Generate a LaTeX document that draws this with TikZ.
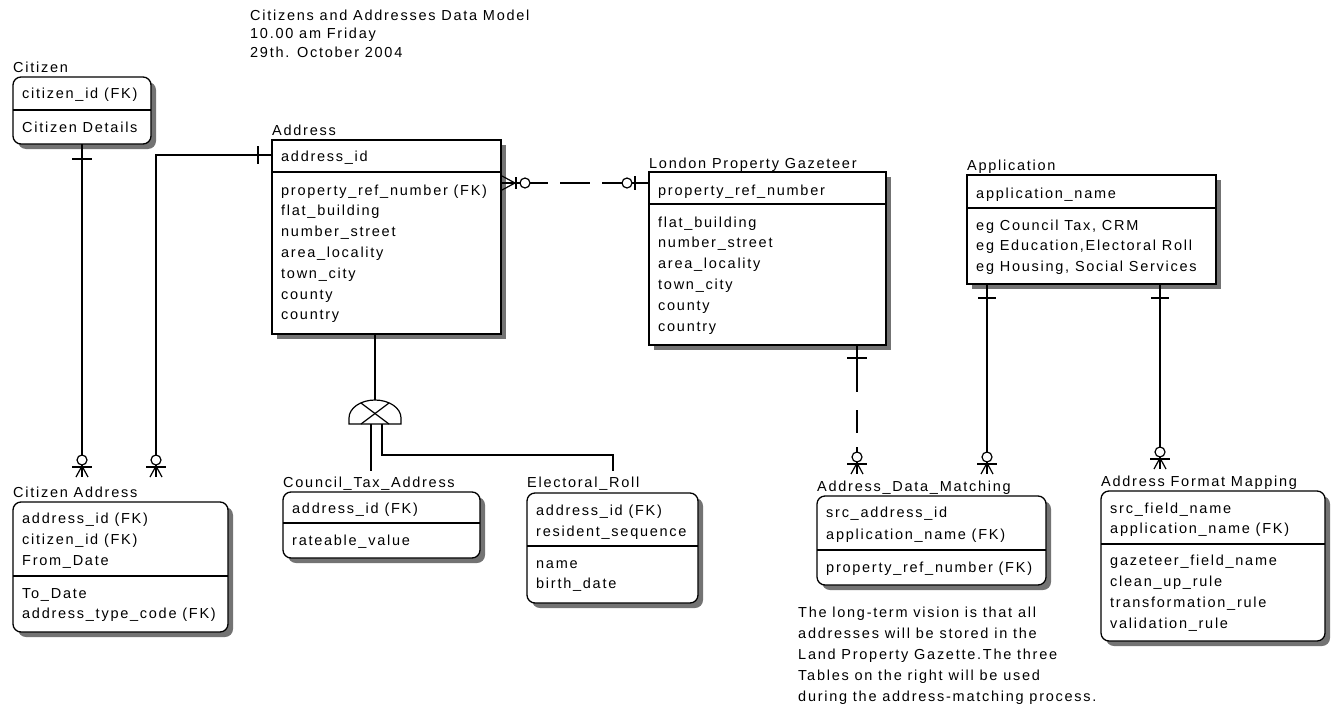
\documentclass[tikz,border=0pt]{standalone}
\usepackage{fontspec}
\setmainfont{Liberation Sans}[LetterSpace=12]
\usetikzlibrary{shadows}
\begin{document}
\begin{tikzpicture}[x=1pt,y=-1pt,
  ent/.style={draw, line width=1.3pt, fill=white, anchor=north west, inner sep=0pt, outer sep=0pt,
     drop shadow={shadow xshift=5pt, shadow yshift=-5pt, fill=black!55, opacity=1}},
  dep/.style={ent, rounded corners=8pt},
  txt/.style={anchor=base west, inner sep=0pt, font=\fontsize{14.5}{17}\selectfont},
  rel/.style={line width=1.2pt},
  divl/.style={line width=1.2pt},
  pics/manyend/.style={code={
     \draw[rel] (-6,0) -- (0,-11) -- (6,0);
     \draw[rel] (0,-11) -- (0,0);
     \draw[rel] (-10,-10) -- (10,-10);
     \draw[rel, fill=white] (0,-17) circle[radius=5pt];
  }},
]
\useasboundingbox (0,0) rectangle (1337,709);

% ---------- title ----------
\node[txt] (t1) at (250,21) {Citizens and Addresses Data Model};
\node[txt] (t2) at (250,39) {10.00 am Friday};
\node[txt] (t3) at (250,57) {29th. October 2004};

% ---------- Citizen ----------
\node[txt] (citizen-l) at (13,73) {Citizen};
\node[dep, minimum width=138pt, minimum height=67pt] (citizen) at (13,77) {};
\draw[divl] (13,110) -- (151,110);
\node[txt] (citizen-k) at (22,98) {citizen\_id (FK)};
\node[txt] (citizen-1) at (22,132) {Citizen Details};

% ---------- Address ----------
\node[txt] (address-l) at (272,135) {Address};
\node[ent, minimum width=229pt, minimum height=194pt] (address) at (272,140) {};
\draw[divl] (272,172) -- (501,172);
\node[txt] (address-k) at (281,161) {address\_id};
\foreach \t [count=\i from 0] in {property\_ref\_number (FK), flat\_building, number\_street, area\_locality, town\_city, county, country}
  \node[txt] (address-\i) at (281,195+20.8*\i) {\t};

% ---------- London Property Gazeteer ----------
\node[txt] (lpg-l) at (649,168) {London Property Gazeteer};
\node[ent, minimum width=237pt, minimum height=173pt] (lpg) at (649,172) {};
\draw[divl] (649,204) -- (886,204);
\node[txt] (lpg-k) at (658,195) {property\_ref\_number};
\foreach \t [count=\i from 0] in {flat\_building, number\_street, area\_locality, town\_city, county, country}
  \node[txt] (lpg-\i) at (658,227+20.8*\i) {\t};

% ---------- Application ----------
\node[txt] (app-l) at (967,170) {Application};
\node[ent, minimum width=249pt, minimum height=109pt] (app) at (967,175) {};
\draw[divl] (967,208) -- (1216,208);
\node[txt] (app-k) at (976,198) {application\_name};
\foreach \t [count=\i from 0] in {{eg Council Tax, CRM}, {eg Education,Electoral Roll}, {eg Housing, Social Services}}
  \node[txt] (app-\i) at (976,230+20.5*\i) {\t};

% ---------- Citizen Address ----------
\node[txt] (ca-l) at (13,497) {Citizen Address};
\node[dep, minimum width=215pt, minimum height=130pt] (ca) at (13,502) {};
\draw[divl] (13,576) -- (228,576);
\foreach \t [count=\i from 0] in {address\_id (FK), citizen\_id (FK), From\_Date}
  \node[txt] (ca-k\i) at (22,523+21*\i) {\t};
\foreach \t [count=\i from 0] in {To\_Date, address\_type\_code (FK)}
  \node[txt] (ca-\i) at (22,598+20.5*\i) {\t};

% ---------- Council_Tax_Address ----------
\node[txt] (cta-l) at (283,487) {Council\_Tax\_Address};
\node[dep, minimum width=197pt, minimum height=66pt] (cta) at (283,492) {};
\draw[divl] (283,523) -- (480,523);
\node[txt] (cta-k) at (292,513) {address\_id (FK)};
\node[txt] (cta-0) at (292,545) {rateable\_value};

% ---------- Electoral_Roll ----------
\node[txt] (er-l) at (527,487) {Electoral\_Roll};
\node[dep, minimum width=171pt, minimum height=110pt] (er) at (527,493) {};
\draw[divl] (527,546) -- (698,546);
\node[txt] (er-k0) at (536,515) {address\_id (FK)};
\node[txt] (er-k1) at (536,536) {resident\_sequence};
\node[txt] (er-0) at (536,568) {name};
\node[txt] (er-1) at (536,588) {birth\_date};

% ---------- Address_Data_Matching ----------
\node[txt] (adm-l) at (817,491) {Address\_Data\_Matching};
\node[dep, minimum width=229pt, minimum height=89pt] (adm) at (817,496) {};
\draw[divl] (817,550) -- (1046,550);
\node[txt] (adm-k0) at (826,517) {src\_address\_id};
\node[txt] (adm-k1) at (826,539) {application\_name (FK)};
\node[txt] (adm-0) at (826,572) {property\_ref\_number (FK)};

% ---------- Address Format Mapping ----------
\node[txt] (afm-l) at (1101,486) {Address Format Mapping};
\node[dep, minimum width=224pt, minimum height=150pt] (afm) at (1101,491) {};
\draw[divl] (1101,544) -- (1325,544);
\node[txt] (afm-k0) at (1110,513) {src\_field\_name};
\node[txt] (afm-k1) at (1110,533) {application\_name (FK)};
\foreach \t [count=\i from 0] in {gazeteer\_field\_name, clean\_up\_rule, transformation\_rule, validation\_rule}
  \node[txt] (afm-\i) at (1110,565+21*\i) {\t};

% ---------- note ----------
\foreach \t [count=\i from 0] in {The long-term vision is that all, addresses will be stored in the, Land Property Gazette.The three, Tables on the right will be used, during the address-matching process.}
  \node[txt] (note-\i) at (798,617+21*\i) {\t};

% ---------- connectors ----------
% Citizen -> Citizen Address
\coordinate (caf1) at (82,477);
\draw[rel] (citizen.south) -- (caf1);
\pic at (caf1) {manyend};
\draw[rel] (72,159) -- (92,159);

% Address -> Citizen Address
\coordinate (addrkey) at (272,155);
\coordinate (caf2) at (156,477);
\draw[rel] (address.west |- addrkey) -| (caf2);
\pic at (caf2) {manyend};
\draw[rel] (258,146) -- (258,164);

% Address -> London Property Gazeteer (non-identifying, dashed)
\coordinate (alp) at (0,183);
\draw[rel, dash pattern=on 47pt off 12pt on 30pt off 12pt on 80pt] (address.east |- alp) -- (lpg.west |- alp);
\begin{scope}[shift={(address.east |- alp)}]
  \draw[rel] (1,-7) -- (14,0) -- (1,7);
  \draw[rel] (15,-6) -- (15,6);
  \draw[rel, fill=white] (24,0) circle[radius=5pt];
\end{scope}
\begin{scope}[shift={(lpg.west |- alp)}]
  \draw[rel, fill=white] (-22,0) circle[radius=5pt];
  \draw[rel] (-14,-7) -- (-14,7);
\end{scope}

% Address -> subtype
\coordinate (subtop) at (375,400);
\coordinate (subbase) at (375,424);
\draw[rel] (address.south -| subtop) -- (subtop);
\begin{scope}[shift={(subbase)}]
  \draw[rel] (-26,0) -- (-26,-6) arc[start angle=180, end angle=0, x radius=26pt, y radius=18pt] -- (26,0) -- cycle;
  \draw[rel] (-14,-21) -- (14,0);
  \draw[rel] (14,-21) -- (-14,0);
\end{scope}
\coordinate (subl) at (371,424);
\coordinate (subr) at (382,424);
\coordinate (ctaend) at (371,471);
\coordinate (erend) at (613,471);
\draw[rel] (subl) -- (ctaend);
\draw[rel] (subr) |- (613,455) -- (erend);

% London Property Gazeteer -> Address_Data_Matching
\coordinate (admf1) at (857,474);
\draw[rel, dash pattern=on 47pt off 18pt on 23pt off 14pt on 60pt] (lpg.south -| admf1) -- (admf1);
\pic at (admf1) {manyend};
\draw[rel] (847,358) -- (867,358);

% Application -> Address_Data_Matching
\coordinate (admf2) at (987,474);
\draw[rel] (app.south -| admf2) -- (admf2);
\pic at (admf2) {manyend};
\draw[rel] (978,298) -- (996,298);

% Application -> Address Format Mapping
\coordinate (afmf) at (1160,469);
\draw[rel] (app.south -| afmf) -- (afmf);
\pic at (afmf) {manyend};
\draw[rel] (1151,298) -- (1169,298);
\end{tikzpicture}
\end{document}
